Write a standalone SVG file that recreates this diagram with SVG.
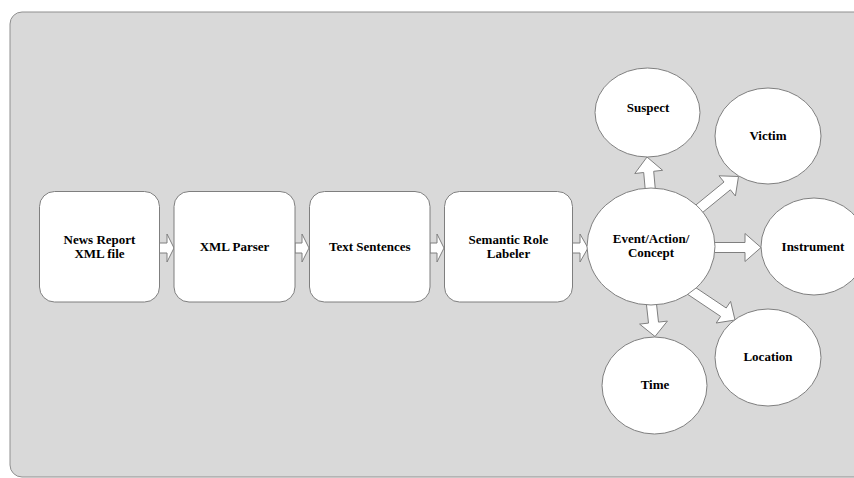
<svg xmlns="http://www.w3.org/2000/svg" width="854" height="478" viewBox="0 0 854 478">
<style>
.panel{fill:#d9d9d9;stroke:#8f8f8f;stroke-width:1}
.box{fill:#ffffff;stroke:#7f7f7f;stroke-width:1}
.circ{fill:#ffffff;stroke:#7f7f7f;stroke-width:1}
.arr{fill:#ffffff;stroke:#7f7f7f;stroke-width:1;stroke-linejoin:miter}
text{font-family:"Liberation Serif","Times New Roman",serif;font-weight:bold;font-size:13px;fill:#000000;text-anchor:middle}
</style>
<rect x="0" y="0" width="854" height="478" fill="#ffffff"/>
<rect class="panel" x="10" y="12" width="870" height="465" rx="12" ry="12"/>
<g id="connectors">
<polygon class="arr" points="159,243 167,243 167,234 174,248 167,262 167,253 159,253"/>
<polygon class="arr" points="295,243 302,243 302,234 309,248 302,262 302,253 295,253"/>
<polygon class="arr" points="430,243 437,243 437,234 444,248 437,262 437,253 430,253"/>
<polygon class="arr" points="572,243 580,243 580,234 588,248 580,262 580,253 572,253"/>
<polygon class="arr" points="655.5,191.4 653.7,171.3 662.6,170.3 647,157 634.8,173.5 643.7,172.5 645.5,192.6"/>
<polygon class="arr" points="697.2,216.9 730.4,189.8 735.4,196 738.5,176.5 719,175.8 724,182 690.8,209.1"/>
<polygon class="arr" points="710,242.5 745,242.5 745,233.5 761,247.5 745,261.5 745,252.5 710,252.5"/>
<polygon class="arr" points="685.2,292.7 720.6,316.4 716.2,323 735,320 730.6,301.4 726.2,308 690.8,284.3"/>
<polygon class="arr" points="646,300.5 648.5,323.1 639.6,324.1 655,336.5 667.4,321.1 658.5,322.1 656,299.5"/>
</g>
<g id="news-report">
<rect class="box" x="39.5" y="191.5" width="120" height="110.5" rx="15" ry="15"/>
<text x="99.5" y="244">News Report</text>
<text x="99.5" y="258">XML file</text>
</g>
<g id="xml-parser">
<rect class="box" x="174" y="191.5" width="121" height="110.5" rx="15" ry="15"/>
<text x="234.5" y="251">XML Parser</text>
</g>
<g id="text-sentences">
<rect class="box" x="309.5" y="191.5" width="120.5" height="110.5" rx="15" ry="15"/>
<text x="369.75" y="251">Text Sentences</text>
</g>
<g id="srl">
<rect class="box" x="444.5" y="191.5" width="128" height="110.5" rx="15" ry="15"/>
<text x="508.5" y="244">Semantic Role</text>
<text x="508.5" y="258">Labeler</text>
</g>
<g id="event">
<ellipse class="circ" cx="651" cy="246.5" rx="64" ry="58.5"/>
<text x="651" y="243">Event/Action/</text>
<text x="651" y="257">Concept</text>
</g>
<g id="suspect">
<ellipse class="circ" cx="647.5" cy="112.5" rx="52.5" ry="44.5"/>
<text x="648" y="112">Suspect</text>
</g>
<g id="victim">
<ellipse class="circ" cx="768" cy="136" rx="53" ry="48"/>
<text x="768" y="140">Victim</text>
</g>
<g id="instrument">
<ellipse class="circ" cx="814" cy="246.5" rx="53" ry="48.5"/>
<text x="813" y="250.5">Instrument</text>
</g>
<g id="location">
<ellipse class="circ" cx="768" cy="357.5" rx="53" ry="48.5"/>
<text x="768" y="360.5">Location</text>
</g>
<g id="time">
<ellipse class="circ" cx="654.5" cy="385.5" rx="52.5" ry="48.5"/>
<text x="655" y="389">Time</text>
</g>
</svg>
